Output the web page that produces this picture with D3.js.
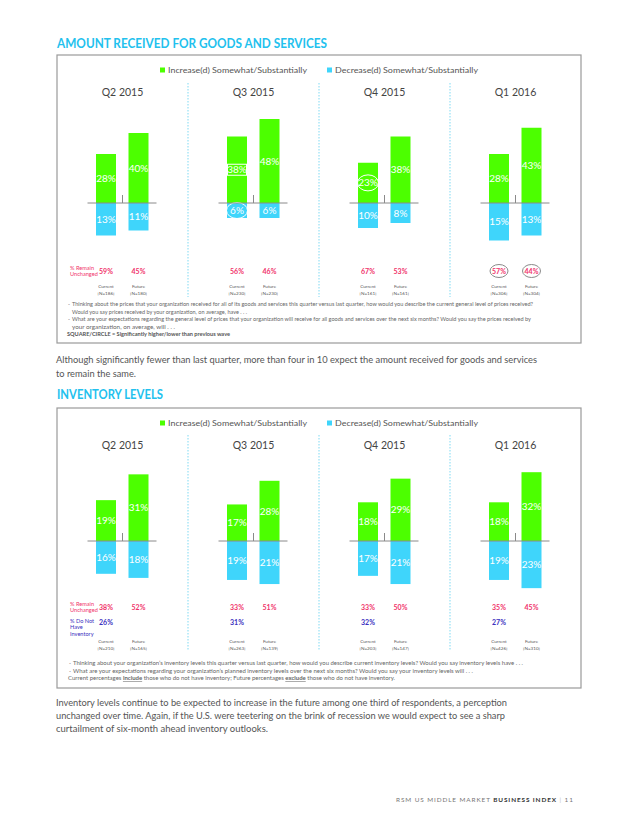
<!DOCTYPE html>
<html>
<head>
<meta charset="utf-8">
<title>Amount received and inventory levels</title>
<style>
  body { margin: 0; background: #fff; }
  svg { display: block; font-family: Lato, "Open Sans", sans-serif; }
</style>
<script src="https://d3js.org/d3.v7.min.js"></script>
</head>
<body>
<svg id="page"></svg>
<script>
var quarters = ["Q2 2015", "Q3 2015", "Q4 2015", "Q1 2016"];
var legendLabels = ["Increase(d) Somewhat/Substantially", "Decrease(d) Somewhat/Substantially"];

// amount received for goods and services
var amtIncCurrent = [28, 38, 23, 28];
var amtIncFuture = [40, 48, 38, 43];
var amtDecCurrent = [13, 6, 10, 15];
var amtDecFuture = [11, 6, 8, 13];
var amtSameCurrent = [59, 56, 67, 57];
var amtSameFuture = [45, 46, 53, 44];
var amtNCurrent = [186, 230, 161, 306];
var amtNFuture = [180, 230, 161, 304];
// significance marks: [quarter, series, shape]
var amtMarks = [
  ["Q3 2015", "incCurrent", "square"],
  ["Q3 2015", "decCurrent", "circle"],
  ["Q4 2015", "incCurrent", "circle"],
  ["Q1 2016", "sameCurrent", "circle"],
  ["Q1 2016", "sameFuture", "circle"]
];

// inventory levels
var invIncCurrent = [19, 17, 18, 18];
var invIncFuture = [31, 28, 29, 32];
var invDecCurrent = [16, 19, 17, 19];
var invDecFuture = [18, 21, 21, 23];
var invSameCurrent = [38, 33, 33, 35];
var invSameFuture = [52, 51, 50, 45];
var invNoneCurrent = [26, 31, 32, 27];
var invNCurrent = [210, 263, 203, 426];
var invNFuture = [165, 139, 147, 310];
var invMarks = [];

var green = "#4cff00", blue = "#3fd5fb", cyan = "#22c1ee", red = "#f0336a", navy = "#3b2fc0";

var svg = d3.select("#page").attr("width", 640).attr("height", 828);

function txt(x, y, s, size, color, opts) {
  opts = opts || {};
  var t = svg.append("text").attr("x", x).attr("y", y).text(s)
    .attr("font-size", size).attr("fill", color)
    .attr("text-anchor", opts.anchor || "start")
    .attr("font-weight", opts.weight || "normal");
  if (opts.len) t.attr("textLength", opts.len).attr("lengthAdjust", "spacingAndGlyphs");
  return t;
}

function drawChart(c) {
  var x = d3.scaleBand().domain(quarters).range([57, 581]);
  var side = d3.scaleOrdinal().domain(["current", "future"]).range([-16.5, 16]);
  var yUp = d3.scaleLinear().domain([0, 10]).range([0, c.upPx * 10]);
  var yDown = d3.scaleLinear().domain([0, 10]).range([0, c.downPx * 10]);
  var bw = 20;

  svg.append("rect").attr("x", 57).attr("y", c.boxTop).attr("width", 524)
    .attr("height", c.boxBottom - c.boxTop).attr("fill", "none")
    .attr("stroke", "#9a9a9a").attr("stroke-width", 1.2);

  // legend
  [green, blue].forEach(function(col, i) {
    var lx = i ? 327 : 160;
    svg.append("rect").attr("x", lx).attr("y", c.legendY - 2.5).attr("width", 5).attr("height", 5).attr("fill", col);
    txt(lx + 8, c.legendY + 2.8, legendLabels[i], 7.6, "#555", {len: i ? 143 : 139});
  });

  // separators
  quarters.slice(1).forEach(function(q) {
    svg.append("line").attr("x1", x(q)).attr("x2", x(q))
      .attr("y1", c.sepTop).attr("y2", c.sepBottom)
      .attr("stroke", "#7fd9f3").attr("stroke-width", 1).attr("stroke-dasharray", "1.5,1.5");
  });

  var rows = [];
  quarters.forEach(function(q, i) {
    var cx = x(q) + x.bandwidth() / 2;
    txt(cx, c.headY, q, 10.5, "#444", {anchor: "middle"});

    var bars = [
      {key: "incCurrent", side: "current", v: c.incCurrent[i], up: true},
      {key: "incFuture", side: "future", v: c.incFuture[i], up: true},
      {key: "decCurrent", side: "current", v: c.decCurrent[i], up: false},
      {key: "decFuture", side: "future", v: c.decFuture[i], up: false}
    ];
    bars.forEach(function(b) {
      var bx = cx + side(b.side) - bw / 2;
      var h = b.up ? yUp(b.v) : yDown(b.v);
      var by = b.up ? c.base - h : c.base;
      svg.append("rect").attr("x", bx).attr("y", by).attr("width", bw).attr("height", h)
        .attr("fill", b.up ? green : blue);
      var ly = by + h / 2;
      txt(bx + bw / 2, ly + 3.6, b.v + "%", 10, "#fff", {anchor: "middle"});
      c.marks.forEach(function(m) {
        if (m[0] !== q || m[1] !== b.key) return;
        if (m[2] === "square") {
          svg.append("rect").attr("x", bx + 0.5).attr("y", ly - 5.5).attr("width", bw - 1).attr("height", 11)
            .attr("fill", "none").attr("stroke", "#fff").attr("stroke-width", 1);
        } else {
          svg.append("ellipse").attr("cx", bx + bw / 2).attr("cy", ly).attr("rx", 10.5).attr("ry", 8)
            .attr("fill", "none").attr("stroke", "#fff").attr("stroke-width", 1);
        }
      });
    });

    // zero line and tick
    svg.append("line").attr("x1", cx - 35).attr("x2", cx + 34).attr("y1", c.base).attr("y2", c.base)
      .attr("stroke", "#8a8a8a").attr("stroke-width", 1);
    svg.append("line").attr("x1", cx).attr("x2", cx).attr("y1", c.base - 8).attr("y2", c.base)
      .attr("stroke", "#8a8a8a").attr("stroke-width", 1);

    // remain unchanged
    [["sameCurrent", "current", c.sameCurrent[i]], ["sameFuture", "future", c.sameFuture[i]]].forEach(function(s) {
      var sx = cx + side(s[1]);
      txt(sx, c.sameY + 2.5, s[2] + "%", 7, red, {anchor: "middle", weight: "bold"});
      c.marks.forEach(function(m) {
        if (m[0] === q && m[1] === s[0]) {
          svg.append("ellipse").attr("cx", sx).attr("cy", c.sameY).attr("rx", 9).attr("ry", 6.5)
            .attr("fill", "none").attr("stroke", "#8a8a8a").attr("stroke-width", 1);
        }
      });
    });
    if (c.noneCurrent) {
      txt(cx + side("current"), c.noneY + 2.5, c.noneCurrent[i] + "%", 7, navy, {anchor: "middle", weight: "bold"});
    }

    // sample sizes
    txt(cx + side("current"), c.nY, "Current", 4.6, "#555", {anchor: "middle"});
    txt(cx + side("current"), c.nY + 6.5, "[N=" + c.nCurrent[i] + "]", 4.6, "#555", {anchor: "middle"});
    txt(cx + side("future"), c.nY, "Future", 4.6, "#555", {anchor: "middle"});
    txt(cx + side("future"), c.nY + 6.5, "[N=" + c.nFuture[i] + "]", 4.6, "#555", {anchor: "middle"});
  });

  txt(70, c.sameY - 1.5, "% Remain", 5.6, red);
  txt(70, c.sameY + 5, "Unchanged", 5.6, red);
  if (c.noneCurrent) {
    txt(70, c.noneY + 0.5, "% Do Not", 5.6, navy);
    txt(70, c.noneY + 7, "Have", 5.6, navy);
    txt(70, c.noneY + 13.5, "Inventory", 5.6, navy);
  }
}

// page titles
txt(57, 48, "AMOUNT RECEIVED FOR GOODS AND SERVICES", 13, cyan, {weight: "bold", len: 270});

drawChart({
  boxTop: 55, boxBottom: 343, legendY: 70, headY: 96, sepTop: 83, sepBottom: 297,
  base: 203, upPx: 1.75, downPx: 2.5, sameY: 271, nY: 288,
  incCurrent: amtIncCurrent, incFuture: amtIncFuture, decCurrent: amtDecCurrent, decFuture: amtDecFuture,
  sameCurrent: amtSameCurrent, sameFuture: amtSameFuture, nCurrent: amtNCurrent, nFuture: amtNFuture,
  marks: amtMarks
});

var fn = 5.4, fc = "#666";
txt(68, 306, "-", fn, fc);
txt(72, 306, "Thinking about the prices that your organization received for all of its goods and services this quarter versus last quarter, how would you describe the current general level of prices received?", fn, fc, {len: 461});
txt(72, 313.5, "Would you say prices received by your organization, on average, have . . .", fn, fc, {len: 175});
txt(68, 321, "-", fn, fc);
txt(72, 321, "What are your expectations regarding the general level of prices that your organization will receive for all goods and services over the next six months? Would you say the prices received by", fn, fc, {len: 459});
txt(72, 328.5, "your organization, on average, will . . .", fn, fc, {len: 103});
txt(67, 336, "SQUARE/CIRCLE = Significantly higher/lower than previous wave", fn, "#555", {weight: "bold", len: 163});

txt(56, 363, "Although significantly fewer than last quarter, more than four in 10 expect the amount received for goods and services", 10.3, "#555", {len: 481});
txt(56, 376.5, "to remain the same.", 10.3, "#555", {len: 80});

txt(57, 399, "INVENTORY LEVELS", 13, cyan, {weight: "bold", len: 106});

drawChart({
  boxTop: 408, boxBottom: 688, legendY: 423, headY: 449, sepTop: 435, sepBottom: 650,
  base: 541, upPx: 2.15, downPx: 2.05, sameY: 607, noneY: 622, nY: 643,
  incCurrent: invIncCurrent, incFuture: invIncFuture, decCurrent: invDecCurrent, decFuture: invDecFuture,
  sameCurrent: invSameCurrent, sameFuture: invSameFuture, noneCurrent: invNoneCurrent,
  nCurrent: invNCurrent, nFuture: invNFuture, marks: invMarks
});

txt(69, 665, "-", fn, fc);
txt(73, 665, "Thinking about your organization\u2019s inventory levels this quarter versus last quarter, how would you describe current inventory levels? Would you say inventory levels have . . .", fn, fc, {len: 450});
txt(69, 672.5, "-", fn, fc);
txt(73, 672.5, "What are your expectations regarding your organization\u2019s planned inventory levels over the next six months?  Would you say your inventory levels will . . .", fn, fc, {len: 400});
var last = svg.append("text").attr("x", 68).attr("y", 680).attr("font-size", fn).attr("fill", fc)
  .attr("textLength", 327).attr("lengthAdjust", "spacingAndGlyphs");
last.append("tspan").text("Current percentages ");
last.append("tspan").text("include").attr("font-weight", "bold").attr("text-decoration", "underline");
last.append("tspan").text(" those who do not have inventory; Future percentages ");
last.append("tspan").text("exclude").attr("font-weight", "bold").attr("text-decoration", "underline");
last.append("tspan").text(" those who do not have inventory.");

txt(56, 706, "Inventory levels continue to be expected to increase in the future among one third of respondents, a perception", 10.3, "#555", {len: 451});
txt(56, 719, "unchanged over time. Again, if the U.S. were teetering on the brink of recession we would expect to see a sharp", 10.3, "#555", {len: 449});
txt(56, 731.5, "curtailment of six-month ahead inventory outlooks.", 10.3, "#555", {len: 212});

var foot = svg.append("text").attr("x", 396).attr("y", 802).attr("font-size", 6.4).attr("fill", "#777")
  .attr("letter-spacing", 0.9);
foot.append("tspan").text("RSM US MIDDLE MARKET ");
foot.append("tspan").text("BUSINESS INDEX").attr("font-weight", "bold").attr("fill", "#333");
foot.append("tspan").text(" | ").attr("fill", "#bbb");
foot.append("tspan").text("11");
</script>
</body>
</html>
